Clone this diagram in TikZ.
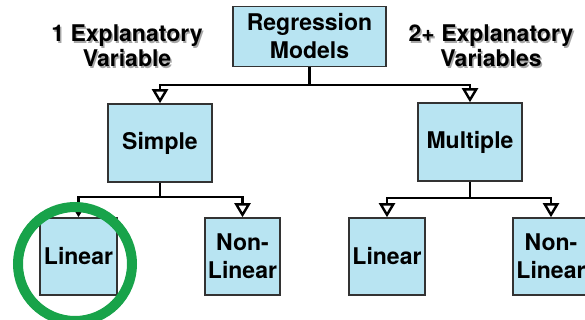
\documentclass[tikz,border=0pt]{standalone}
\usepackage{fontspec}
\setmainfont{TeX Gyre Heros}
\usetikzlibrary{arrows.meta}
\definecolor{boxblue}{RGB}{184,228,242}
\definecolor{ringgreen}{RGB}{24,163,74}
\tikzset{
  box/.style={draw=black!80, line width=1.6pt, fill=boxblue, align=center,
    font=\fontsize{23}{28}\selectfont\bfseries, inner sep=0pt},
  lbl/.style={align=center, font=\fontsize{23}{25}\selectfont\bfseries},
  shade/.style={lbl, text=black!35},
  arr/.style={line width=2.4pt, -{Triangle[open, width=16pt, length=14pt]}}
}
\begin{document}
\begin{tikzpicture}[x=1pt,y=-1pt]
		\useasboundingbox (0,0) rectangle (585,320);
		\node[box, minimum width=153, minimum height=60] (reg) at (309.5,36.5) {Regression\\Models};
		\node[box, minimum width=104, minimum height=78] (simple) at (160,143) {Simple};
		\node[box, minimum width=104, minimum height=78] (multi) at (470,142) {Multiple};
		\node[box, minimum width=77, minimum height=77] (slin) at (78.5,256.5) {Linear};
		\node[box, minimum width=75, minimum height=77] (snon) at (242.5,256.5) {Non-\\Linear};
		\node[box, minimum width=76, minimum height=77] (mlin) at (387,256.5) {Linear};
		\node[box, minimum width=76, minimum height=77] (mnon) at (551,256.5) {Non-\\Linear};
		\node[shade] (oneSh) at (128.5,47.5) {1 Explanatory\\Variable};
		\node[lbl] (one) at (127,46) {1 Explanatory\\Variable};
		\node[shade] (twoSh) at (492.5,47.5) {2+ Explanatory\\Variables};
		\node[lbl] (two) at (491,46) {2+ Explanatory\\Variables};
		\draw[arr] (reg.south) -- ++(0,18) -| (simple.north);
		\draw[arr] (reg.south) -- ++(0,18) -| (multi.north);
		\draw[arr] (simple.south) -- ++(0,14) -| (slin.north);
		\draw[arr] (simple.south) -- ++(0,14) -| (snon.north);
		\draw[arr] (multi.south) -- ++(0,16) -| (mlin.north);
		\draw[arr] (multi.south) -- ++(0,16) -| (mnon.north);
		\draw[ringgreen, line width=10pt] (75,264) circle (57);
	\end{tikzpicture}
\end{document}
